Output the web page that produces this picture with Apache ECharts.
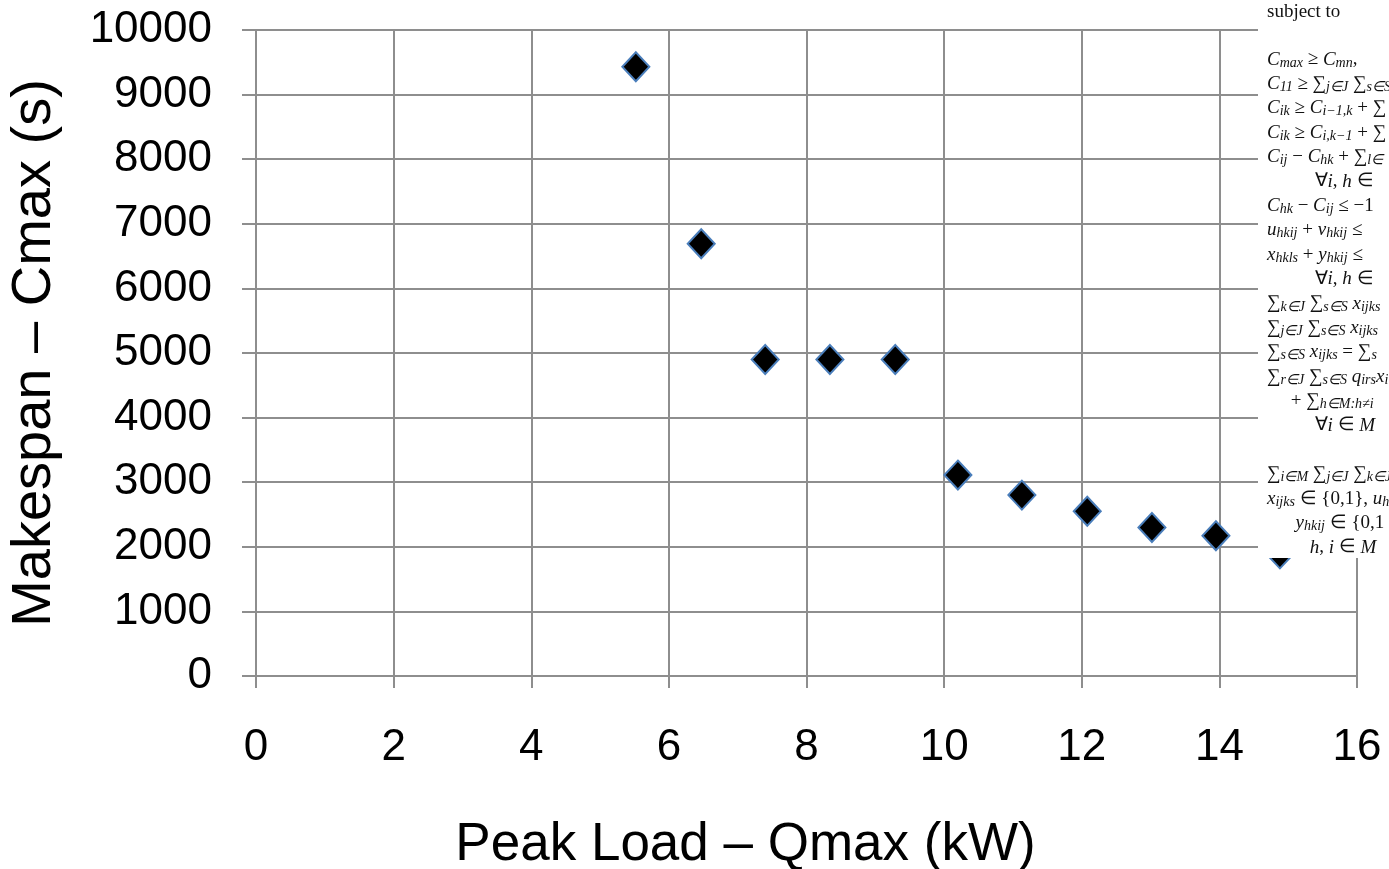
<!DOCTYPE html>
<html>
<head>
<meta charset="utf-8">
<script src="https://cdn.jsdelivr.net/npm/echarts@6/dist/echarts.min.js"></script>
<style>
  html, body { margin: 0; padding: 0; background: #fff; }
  #chart { width: 1389px; height: 869px; }
</style>
</head>
<body>
<div id="chart"></div>
<script>
// peak load (kW) vs makespan (s)
var peakLoad = [5.52, 6.47, 7.40, 8.34, 9.29, 10.20, 11.13, 12.08, 13.02, 13.95, 14.88];
var makespan = [9430, 6690, 4900, 4900, 4900, 3110, 2800, 2550, 2300, 2170, 1890];
var xTicks = [0, 16, 2];
var yTicks = [0, 10000, 1000];

// the pasted formula snippet that sits over the right edge
var formulaLines = [
  'subject to',
  '',
  '{i|C}{s|max} ≥ {i|C}{s|mn},',
  '{i|C}{s|11} ≥ ∑{s|j∈J} ∑{s|s∈S}',
  '{i|C}{s|ik} ≥ {i|C}{s|i−1,k} + ∑',
  '{i|C}{s|ik} ≥ {i|C}{s|i,k−1} + ∑',
  '{i|C}{s|ij} − {i|C}{s|hk} + ∑{s|l∈}',
  '          ∀{i|i}, {i|h} ∈',
  '{i|C}{s|hk} − {i|C}{s|ij} ≤ −1',
  '{i|u}{s|hkij} + {i|v}{s|hkij} ≤',
  '{i|x}{s|hkls} + {i|y}{s|hkij} ≤',
  '          ∀{i|i}, {i|h} ∈',
  '∑{s|k∈J} ∑{s|s∈S} {i|x}{s|ijks}',
  '∑{s|j∈J} ∑{s|s∈S} {i|x}{s|ijks}',
  '∑{s|s∈S} {i|x}{s|ijks} = ∑{s|s}',
  '∑{s|r∈J} ∑{s|s∈S} {i|q}{s|irs}{i|x}{s|i}',
  '     + ∑{s|h∈M:h≠i}',
  '          ∀{i|i} ∈ {i|M}',
  '',
  '∑{s|i∈M} ∑{s|j∈J} ∑{s|k∈J} ∑',
  '{i|x}{s|ijks} ∈ {0,1}, {i|u}{s|h}',
  '      {i|y}{s|hkij} ∈ {0,1',
  '         {i|h}, {i|i} ∈ {i|M}'
];

var chart = echarts.init(document.getElementById('chart'));

var gridColor = '#8e8e8e';
var labelFont = 'Liberation Sans';

var formulaGraphics = [{
  type: 'rect',
  left: 1258,
  top: 0,
  shape: { width: 140, height: 558 },
  style: { fill: '#fff' },
  z: 100
}];
formulaLines.forEach(function (line, idx) {
  if (!line) return;
  formulaGraphics.push({
    type: 'text',
    left: 1267,
    top: idx === 0 ? 3 : 50 + (idx - 2) * 24.4,
    z: 101,
    style: {
      text: line,
      fill: '#111',
      font: '19px "Liberation Serif"',
      rich: {
        i: { fontFamily: 'Liberation Serif', fontStyle: 'italic', fontSize: 19, fill: '#111' },
        s: { fontFamily: 'Liberation Serif', fontStyle: 'italic', fontSize: 14, fill: '#111', verticalAlign: 'bottom', padding: [7, 0, 0, 0] }
      }
    }
  });
});

var option = {
  backgroundColor: '#fff',
  animation: false,
  grid: { left: 256, right: 32, top: 30, bottom: 193, outerBoundsMode: 'none' },
  xAxis: {
    type: 'value',
    min: xTicks[0],
    max: xTicks[1],
    interval: xTicks[2],
    name: 'Peak Load – Qmax (kW)',
    nameLocation: 'middle',
    nameGap: 143,
    nameTextStyle: {
      fontFamily: labelFont, fontSize: 53, color: '#000',
      padding: [0, 122, 0, 0]
    },
    axisLine: { show: true, lineStyle: { color: gridColor, width: 2 } },
    axisTick: { show: true, length: 12, lineStyle: { color: gridColor, width: 2 } },
    axisLabel: { fontFamily: labelFont, fontSize: 44, color: '#000', margin: 50 },
    splitLine: { show: true, lineStyle: { color: gridColor, width: 2 } }
  },
  yAxis: {
    type: 'value',
    min: yTicks[0],
    max: yTicks[1],
    interval: yTicks[2],
    name: 'Makespan – Cmax (s)',
    nameLocation: 'middle',
    nameGap: 193,
    nameTextStyle: { fontFamily: labelFont, fontSize: 56, color: '#000' },
    axisLine: { show: true, lineStyle: { color: gridColor, width: 2 } },
    axisTick: { show: true, length: 14, lineStyle: { color: gridColor, width: 2 } },
    axisLabel: {
      fontFamily: labelFont, fontSize: 44, color: '#000', margin: 44,
      padding: [8, 0, 0, 0],
      formatter: function (v) { return String(v); }
    },
    splitLine: { show: true, lineStyle: { color: gridColor, width: 2 } }
  },
  series: [{
    type: 'scatter',
    symbol: 'diamond',
    symbolSize: [27, 29],
    itemStyle: { color: '#000', borderColor: '#4a7ebb', borderWidth: 2, opacity: 1 },
    data: peakLoad.map(function (x, i) { return [x, makespan[i]]; })
  }],
  graphic: formulaGraphics
};

chart.setOption(option);
</script>
</body>
</html>
